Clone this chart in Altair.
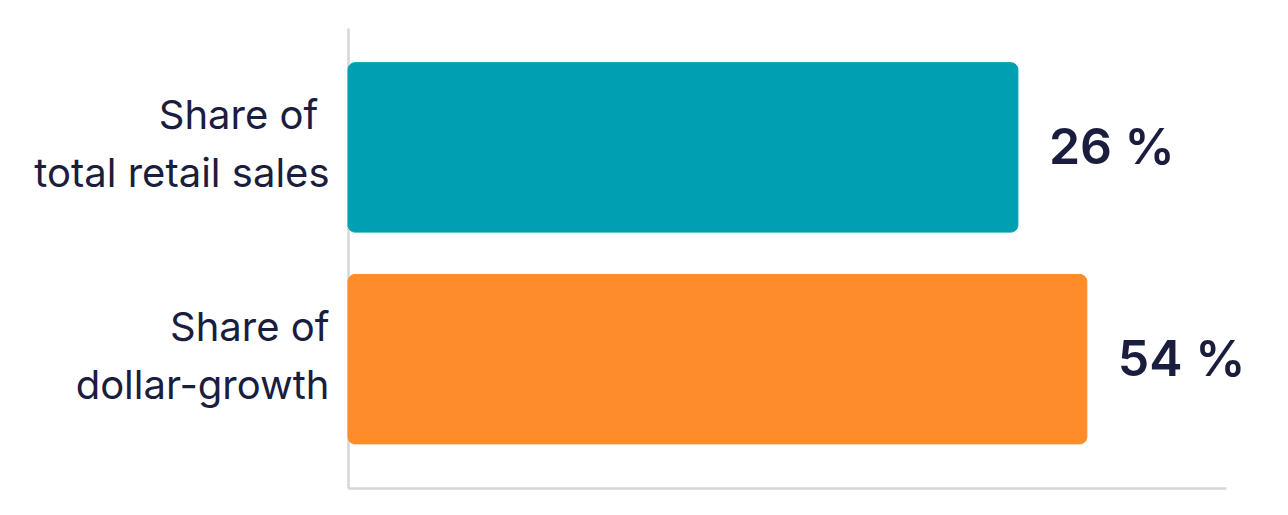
import altair as alt
import pandas as pd

categories = ["Share of\u00a0\u200b|total retail sales", "Share of|dollar-growth"]
values = [26, 54]
value_labels = ["26 %", "54 %"]
colors = ["#00A0B2", "#FF8C2B"]

df = pd.DataFrame({"cat": categories, "value": values, "label": value_labels, "color": colors})

X_MIN, X_MAX = -246, 110.5

base = alt.Chart(df).encode(
    y=alt.Y("cat:N", sort=categories, title=None,
            scale=alt.Scale(paddingInner=0.2, paddingOuter=0.186, align=0.44),
            axis=alt.Axis(labelExpr="split(datum.value, '|')", labelFont="Inter",
                          labelFontSize=40, labelColor="#1B1D3F", labelLineHeight=58,
                          labelPadding=19, labelOffset=-30, ticks=False, domainColor="#D6D6D6",
                          domainWidth=2.5, labelLimit=400, labelAlign="right",
                          labelBaseline="middle")),
)

bars = base.mark_bar(cornerRadiusEnd=7, strokeWidth=1).encode(
    x=alt.X("value:Q", title=None, scale=alt.Scale(domain=[X_MIN, X_MAX], zero=False, nice=False),
            axis=alt.Axis(labels=False, ticks=False, grid=False, domainColor="#D6D6D6",
                          domainWidth=2.5)),
    x2=alt.datum(X_MIN),
    color=alt.Color("color:N", scale=None),
    stroke=alt.Color("color:N", scale=None),
)

texts = base.mark_text(align="left", baseline="middle", dx=31, dy=2, font="Inter",
                       fontSize=50, fontWeight=600, color="#1B1D3F").encode(
    x="value:Q",
    text="label:N",
)

chart = (bars + texts).properties(
    width=878, height=460,
    autosize=alt.AutoSizeParams(type="none"),
    padding={"left": 340, "top": 20, "right": 50, "bottom": 10},
).configure_view(stroke=None)

chart.save("out.html", embed_options={"renderer": "svg", "actions": False})
